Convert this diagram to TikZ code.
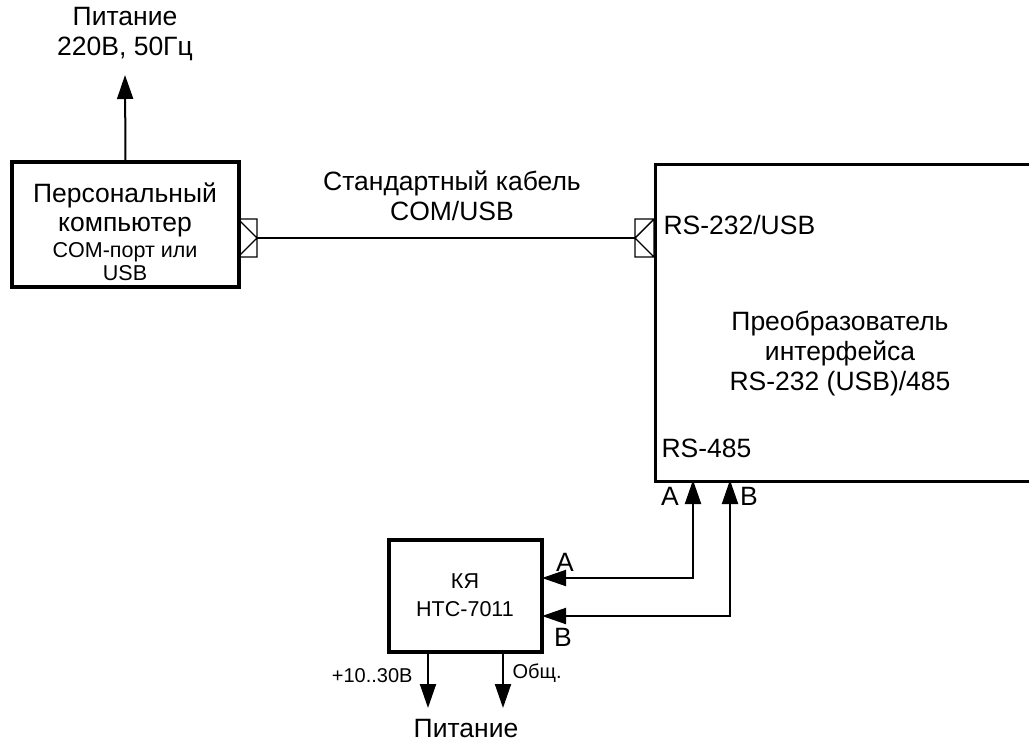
\documentclass[tikz,border=0pt]{standalone}
\usepackage{fontspec}
\setmainfont{Liberation Sans}
\usetikzlibrary{arrows.meta}
\begin{document}
\begin{tikzpicture}[x=1pt,y=-1pt,
	blk/.style={draw,line width=3.2pt,inner sep=0pt},
	wire/.style={line width=2pt},
	port/.style={line width=1.4pt},
	tip/.tip={Triangle[length=24pt,width=16pt]},
	arr/.style={wire,-tip},
	dbl/.style={wire,tip-tip},
	big/.style={font=\fontsize{26.5}{30}\selectfont,align=center},
	mid/.style={font=\fontsize{21.5}{25}\selectfont,align=center},
	sml/.style={font=\fontsize{20}{22}\selectfont}]
	
	\clip (0,0) rectangle (1029,745);
	\def\ya{578}
	\def\yb{616}
	
	% blocks
	\node[blk,minimum width=227pt,minimum height=125pt] (pc) at (125.5,224.5) {};
	\node[blk,minimum width=420pt,minimum height=317pt,anchor=north west] (conv) at (654,163) {};
	\node[blk,minimum width=153pt,minimum height=112pt] (ky) at (465.5,596) {};
	
	% PC
	\node[big] (pcname) at (125,195) {Персональный};
	\node[big] (pcname2) at (125,227) {компьютер};
	\node[mid] (pcport) at (125,252) {COM-порт или};
	\node[mid] (pcusb) at (125,273) {USB};
	\node[big] (pwr) at (125,34) {Питание\\220В, 50Гц};
	\coordinate (pwrin) at (125,75);
	\draw[arr] (pc.north) -- (pwrin);
	
	% cable
	\coordinate (p1) at (238,238);
	\coordinate (p2) at (654,238);
	\coordinate (c1) at (257,238);
	\coordinate (c2) at (635,238);
	\draw[port,shift={(p1)}] (0,-19) rectangle (19,19) (0,-19) -- (19,0) -- (0,19);
	\draw[port,shift={(p2)}] (0,-19) rectangle (-19,19) (0,-19) -- (-19,0) -- (0,19);
	\draw[wire] (c1) -- (c2);
	\node[big] (cab) at (452,196) {Стандартный кабель\\COM/USB};
	
	% converter
	\node[big,anchor=west] (rs232) at (660,225) {RS-232/USB};
	\node[big] (convname) at (840,354) {Преобразователь\\интерфейса\\RS-232 (USB)/485};
	\node[big,anchor=west] (rs485) at (658,448) {RS-485};
	
	% RS-485 lines
	\coordinate (kA) at (542,\ya);
	\coordinate (kB) at (542,\yb);
	\coordinate (cA) at (693,480);
	\coordinate (cB) at (730,480);
	\draw[dbl] (kA) -| (cA);
	\draw[dbl] (kB) -| (cB);
	\node[big] (lA) at (670,496) {A};
	\node[big] (lB) at (749,496) {B};
	\node[big] (kyA) at (565,562) {A};
	\node[big] (kyB) at (563,637) {B};
	
	% KYa
	\node[mid] (kyname) at (465,581) {КЯ};
	\node[mid] (kytype) at (465,609) {НТС-7011};
	\coordinate (vp) at (428,708);
	\coordinate (gnd) at (503,708);
	\draw[arr] ([xshift=-37.5pt]ky.south) -- (vp);
	\draw[arr] ([xshift=37.5pt]ky.south) -- (gnd);
	\node[sml,anchor=east] (vplbl) at (416,676) {+10..30В};
	\node[sml,anchor=west] (gndlbl) at (509,673) {Общ.};
	\node[big] (pwr2) at (466,729) {Питание};
	
\end{tikzpicture}
\end{document}
